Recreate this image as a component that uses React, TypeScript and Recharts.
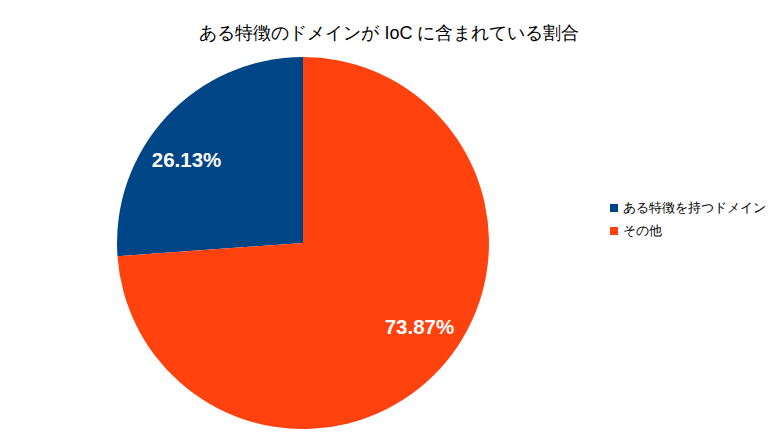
import { PieChart, Pie, Cell, Legend } from 'recharts';

const categories = ['ある特徴を持つドメイン', 'その他'];
const shares = [26.13, 73.87];
const colors = ['#004586', '#ff420e'];
const title = 'ある特徴のドメインが IoC に含まれている割合';

const data = categories.map((name, i) => ({ name, value: shares[i] }));

const RAD = Math.PI / 180;

// label box corner sits on 60% of the radius, box grows away from the center
const renderLabel = (props: any) => {
    const { cx, cy, midAngle, outerRadius, value } = props;
    const r = outerRadius * 0.6;
    const c = Math.cos(-midAngle * RAD);
    const s = Math.sin(-midAngle * RAD);
    const x = cx + r * c;
    const y = cy + r * s;
    return (
        <text
            x={x}
            y={y}
            fill="#ffffff"
            fontSize={20.5}
            fontWeight="bold"
            fontFamily="'Liberation Sans', Arial, sans-serif"
            textAnchor={c > 0 ? 'start' : 'end'}
            dominantBaseline={s > 0 ? 'hanging' : 'auto'}
        >
            {value.toFixed(2)}%
        </text>
    );
};

const renderLegend = () => (
    <div style={{ fontFamily: "'Liberation Sans', Arial, sans-serif", fontSize: 13, color: '#000' }}>
        {categories.map((name, i) => (
            <div key={name} style={{ display: 'flex', alignItems: 'center', height: 23 }}>
                <span style={{ flexShrink: 0, width: 8, height: 8, background: colors[i], marginRight: 5 }} />
                {name}
            </div>
        ))}
    </div>
);

export default function App() {
    return (
        <div style={{ position: 'absolute', left: 0, top: 0, width: 779, height: 438, background: '#fff' }}>
            <div
                style={{
                    position: 'absolute',
                    top: 21,
                    left: 0,
                    width: 779,
                    textAlign: 'center',
                    fontFamily: "'Liberation Sans', Arial, sans-serif",
                    fontSize: 18,
                    color: '#000',
                }}
            >
                {title}
            </div>
            <PieChart width={779} height={438} margin={{ top: 0, right: 0, bottom: 0, left: 0 }}>
                <Pie
                    data={data}
                    dataKey="value"
                    nameKey="name"
                    cx={303}
                    cy={243}
                    outerRadius={186}
                    startAngle={90}
                    endAngle={450}
                    stroke="none"
                    label={renderLabel}
                    labelLine={false}
                    isAnimationActive={false}
                >
                    {data.map((d, i) => (
                        <Cell key={d.name} fill={colors[i]} />
                    ))}
                </Pie>
                <Legend
                    content={renderLegend}
                    layout="vertical"
                    verticalAlign="top"
                    align="right"
                    wrapperStyle={{ left: 610, top: 196, width: 170 }}
                />
            </PieChart>
        </div>
    );
}
